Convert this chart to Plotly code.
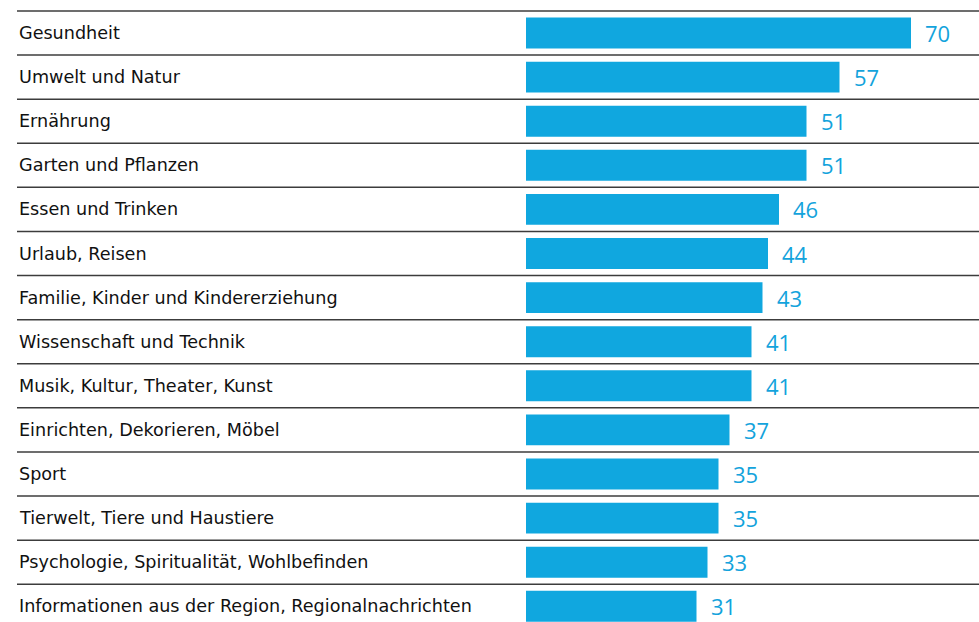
import plotly.graph_objects as go

# Interest topics and share of respondents (percent)
categories = [
    "Gesundheit",
    "Umwelt und Natur",
    "Ernährung",
    "Garten und Pflanzen",
    "Essen und Trinken",
    "Urlaub, Reisen",
    "Familie, Kinder und Kindererziehung",
    "Wissenschaft und Technik",
    "Musik, Kultur, Theater, Kunst",
    "Einrichten, Dekorieren, Möbel",
    "Sport",
    "Tierwelt, Tiere und Haustiere",
    "Psychologie, Spiritualität, Wohlbefinden",
    "Informationen aus der Region, Regionalnachrichten",
]
values = [70, 57, 51, 51, 46, 44, 43, 41, 41, 37, 35, 35, 33, 31]

W, H = 979, 622
BAR_COLOR = "#10a7df"
LABEL_COLOR = "#13a3dc"
LINE_COLOR = "#3c3c3c"

# Horizontal scale: bars start at px 526, 5.5 px per percent
px_per_unit = 5.5
x_zero_px = 526
x_min = -x_zero_px / px_per_unit
x_max = x_min + W / px_per_unit

# Vertical scale: first row centred at px 33, rows 44.1 px apart
row_h = 44.1
first_center = 33
y_top = -first_center / row_h
y_bottom = (H - first_center) / row_h

fig = go.Figure()
fig.add_trace(go.Bar(
    x=values,
    y=categories,
    orientation="h",
    marker=dict(color=BAR_COLOR, line=dict(width=0)),
    width=0.70,
    hoverinfo="skip",
))

annotations = []
shapes = []
for i, (cat, val) in enumerate(zip(categories, values)):
    # category name, left aligned
    annotations.append(dict(
        x=17 / W, xref="paper", xanchor="left",
        y=cat, yref="y", yanchor="middle",
        text=cat, showarrow=False,
        font=dict(family="DejaVu Sans", size=17.6, color="#111111"),
    ))
    # value to the right of the bar
    annotations.append(dict(
        x=val, xref="x", xanchor="left", xshift=12,
        y=cat, yref="y", yanchor="middle",
        text=str(val), showarrow=False,
        font=dict(family="Open Sans", size=22, color=LABEL_COLOR),
    ))
    # separator line above each row
    shapes.append(dict(
        type="line", xref="paper", yref="y",
        x0=17 / W, x1=1, y0=i - 0.5, y1=i - 0.5,
        line=dict(color=LINE_COLOR, width=1.5),
    ))

fig.update_layout(
    width=W, height=H,
    margin=dict(l=0, r=0, t=0, b=0),
    paper_bgcolor="white",
    plot_bgcolor="white",
    showlegend=False,
    xaxis=dict(range=[x_min, x_max], visible=False, fixedrange=True),
    yaxis=dict(
        type="category",
        categoryorder="array", categoryarray=categories,
        range=[y_bottom, y_top],
        visible=False, fixedrange=True,
    ),
    annotations=annotations,
    shapes=shapes,
)

fig.write_html("out.html")
